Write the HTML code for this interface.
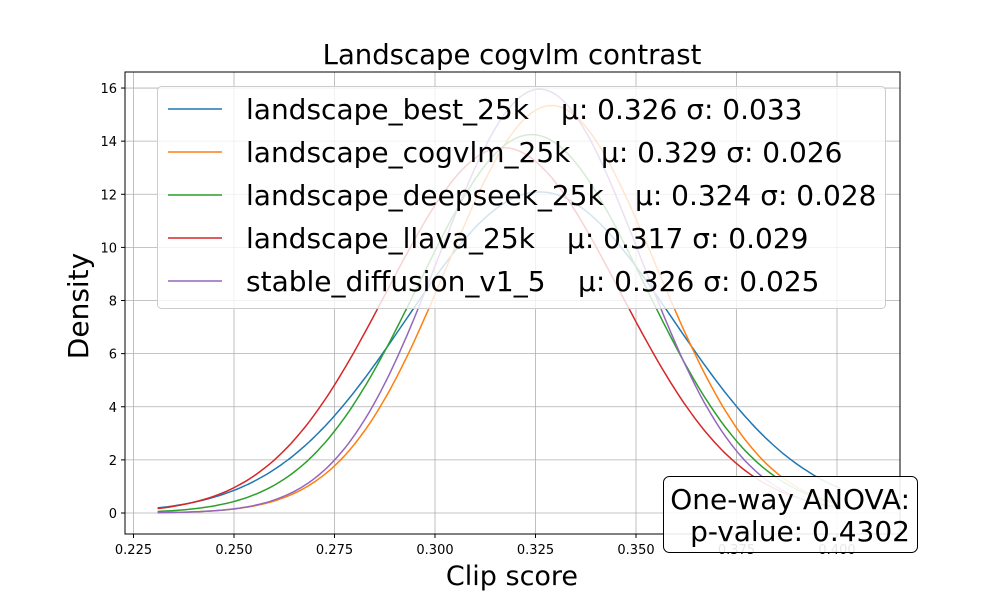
<!DOCTYPE html>
<html><head><meta charset="utf-8"><style>
body{margin:0;background:#fff}
svg{font-family:"DejaVu Sans","Liberation Sans",sans-serif}
</style></head><body>
<svg id="chart" width="1000" height="600" viewBox="0 0 1000 600" xmlns="http://www.w3.org/2000/svg">
<rect width="1000" height="600" fill="#fff"/>
<g id="grid"></g>
<g id="curves"></g>
<rect x="125" y="72" width="775" height="462" fill="none" stroke="#000" stroke-width="1"/>
<g id="ticks"></g>
<text x="512" y="64" font-size="27.5" text-anchor="middle">Landscape cogvlm contrast</text>
<text x="512" y="585" font-size="27" text-anchor="middle">Clip score</text>
<text transform="translate(88,306) rotate(-90)" font-size="28" text-anchor="middle">Density</text>
<g id="legend"></g>
<g>
<rect x="663.5" y="476.5" width="254" height="76" rx="6" fill="#fff" fill-opacity="0.9" stroke="#000" stroke-width="1"/>
<text x="910" y="509" font-size="28" text-anchor="end">One-way ANOVA:</text>
<text x="910" y="541" font-size="28" text-anchor="end">p-value: 0.4302</text>
</g>
</svg>
<script>
const names=["landscape_best_25k","landscape_cogvlm_25k","landscape_deepseek_25k","landscape_llava_25k","stable_diffusion_v1_5"];
const means=[0.326,0.329,0.324,0.317,0.326];
const sigmas=[0.033,0.026,0.028,0.029,0.025];
const colors=["#1f77b4","#ff7f0e","#2ca02c","#d62728","#9467bd"];
const xTicks=[0.225,0.250,0.275,0.300,0.325,0.350,0.375,0.400];
const yTicks=[0,2,4,6,8,10,12,14,16];
const xMin=0.231,xMax=0.401;
const statX=[561,601,635,567,578];
const NS="http://www.w3.org/2000/svg";
const sx=v=>435+(v-0.3)*4020;
const sy=v=>513-v*26.56;
function mk(t,a,p){const e=document.createElementNS(NS,t);for(const k in a)e.setAttribute(k,a[k]);p.appendChild(e);return e;}
const grid=document.getElementById('grid'),ticks=document.getElementById('ticks'),cur=document.getElementById('curves'),leg=document.getElementById('legend');
xTicks.forEach(v=>{const x=sx(v);
 const g=mk('line',{x1:x,x2:x,y1:72,y2:534,stroke:'#b0b0b0','stroke-width':0.8},grid);
 
 mk('line',{x1:x,x2:x,y1:534,y2:538,stroke:'#000'},ticks);
 const t=mk('text',{x:x,y:554,'font-size':13,'text-anchor':'middle'},ticks);t.textContent=v.toFixed(3);
 });
yTicks.forEach(v=>{const y=sy(v);
 const g=mk('line',{x1:125,x2:900,y1:y,y2:y,stroke:'#b0b0b0','stroke-width':0.8},grid);
 
 mk('line',{x1:121,x2:125,y1:y,y2:y,stroke:'#000'},ticks);
 const t=mk('text',{x:117,y:y+5,'font-size':13,'text-anchor':'end'},ticks);t.textContent=v;
 });
names.forEach((n,i)=>{let d='';
 for(let k=0;k<=200;k++){const x=xMin+(xMax-xMin)*k/200;const z=(x-means[i])/sigmas[i];
  const y=Math.exp(-z*z/2)/(sigmas[i]*Math.sqrt(2*Math.PI));d+=(k?'L':'M')+sx(x).toFixed(1)+','+sy(y).toFixed(1);}
 const p=mk('path',{d:d,fill:'none',stroke:colors[i],'stroke-width':1.5},cur);
 });
const box=mk('rect',{x:157.5,y:86.5,width:728,height:222,rx:4,fill:'#fff','fill-opacity':0.8,stroke:'#ccc'},leg);

names.forEach((n,i)=>{const y=109+i*43;
 const g=mk('g',{},leg);
 mk('line',{x1:168,x2:222,y1:y,y2:y,stroke:colors[i],'stroke-width':1.5},g);
 const t=mk('text',{x:246,y:y+10,'font-size':28},g);t.textContent=n;
 const s=mk('text',{x:statX[i],y:y+10,'font-size':28},g);
 s.textContent='μ: '+means[i].toFixed(3)+' σ: '+sigmas[i].toFixed(3);});
</script>
</body></html>
